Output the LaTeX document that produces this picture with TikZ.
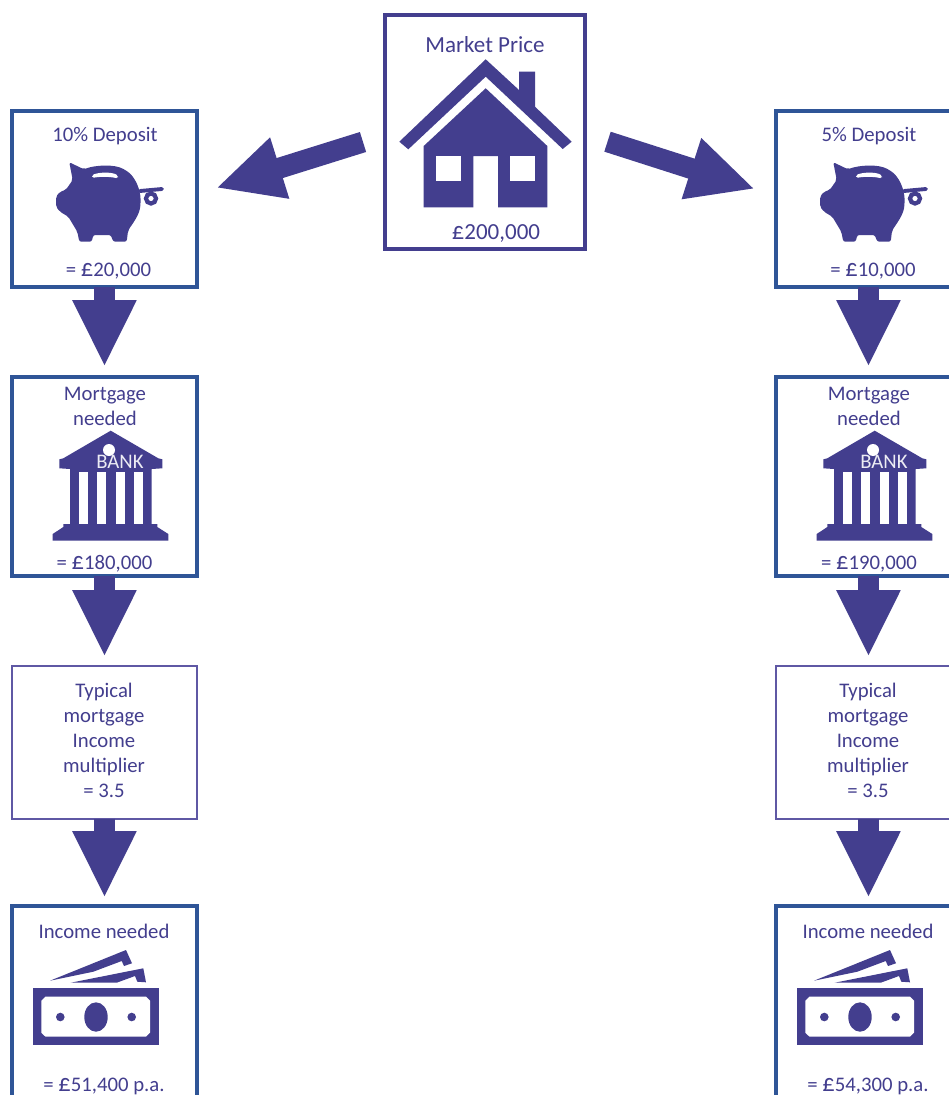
\documentclass[tikz,border=0pt]{standalone}
\usepackage{fontspec}
\setmainfont{Carlito}
\usetikzlibrary{arrows.meta}

\definecolor{ink}{HTML}{433E8E}
\definecolor{boxblue}{HTML}{2F5597}
\definecolor{boxthin}{HTML}{5F58A4}

\newcommand{\quid}{{\fontsize{14}{14}\selectfont £}}

\tikzset{
  box/.style={rectangle, draw=boxblue, fill=white, line width=1.8pt, outer sep=0pt, minimum width=3.7cm, anchor=north west},
  thinbox/.style={box, draw=boxthin, line width=1.1pt},
  pricebox/.style={box, draw=ink, line width=2pt, minimum width=4cm, minimum height=4.68cm},
  lbl/.style={text=ink, inner sep=0pt, align=center, font=\fontsize{11.8}{14.2}\selectfont},
  biglbl/.style={lbl, font=\fontsize{13.1}{15}\selectfont},
  blockarrow/.style={draw=ink, line width=11.9pt, -{Triangle[width=33.6pt, length=38pt]}},
  piggy/.pic={
    \fill[ink, rounded corners=1.2pt] (69.3,162.3) -- (84,169.3) .. controls (95,165) and (115,164) .. (125,170) .. controls (135,176) and (141,190) .. (140.5,203) .. controls (140,215) and (132,224) .. (128,231) -- (126.7,241.7) -- (113.3,241.7) -- (110.7,235) -- (93.3,235) -- (91.7,241.7) -- (79.3,241.7) -- (77.3,231.7) -- (68.3,216.7) -- (60,211.7) -- (56,206.7) -- (56,196.7) -- (60,191.7) -- (65.7,190) -- (72.7,180) -- cycle;
    \fill[white, rounded corners=1pt] (92,175) .. controls (100,172) and (112,172) .. (118,175.5) -- (118,178.5) .. controls (110,176.5) and (100,176.5) .. (92,178) -- cycle;
    \draw[ink, line width=2.2pt, line cap=round] (140,191) -- (162,189);
    \draw[ink, line width=2.4pt] (151,198.5) circle (5);
  },
  bankhouse/.pic={
    \fill[ink] (110.7,430.7) -- (158.3,458.3) -- (162.3,459.3) -- (162.3,468.3) -- (151.7,469) -- (151.7,524) -- (157.3,524) -- (157.3,527) -- (168.3,534) -- (168.3,540.7) -- (52.7,540.7) -- (52.7,534) -- (63.3,527) -- (63.3,524) -- (70,524) -- (70,469) -- (59.3,468.3) -- (59.3,459.3) -- (63.3,458.3) -- cycle;
    \fill[white] (79,471.7) rectangle (88,524);
    \fill[white] (97.3,471.7) rectangle (106,524);
    \fill[white] (115.7,471.7) rectangle (124.7,524);
    \fill[white] (134,471.7) rectangle (142.7,524);
    \fill[white] (109,450) circle (6);
    \node at (120,462.3) [lbl, text=white!90!ink] (banktext) {BANK};
  },
  banknotes/.pic={
    \fill[ink] (50,980.7) -- (126,950) -- (132,963.3) -- (124,966) -- (121.7,961) -- (93.3,971.7) -- cycle;
    \fill[ink] (70.7,982.7) -- (143.3,968.3) -- (146,982.3) -- (137.3,981.7) -- (135,976) -- (116.7,982.7) -- cycle;
    \fill[ink] (32.7,988.3) rectangle (158.7,1045.3);
    \fill[white] (45.5,996.7) -- (146,996.7) -- (150,1000.7) -- (150,1032.7) -- (146,1036.7) -- (45.5,1036.7) -- (41.3,1032.7) -- (41.3,1000.7) -- cycle;
    \fill[ink] (96,1017) ellipse (11.7 and 14.7);
    \fill[ink] (60.3,1017) circle (4.3);
    \fill[ink] (131.7,1017) circle (4.3);
  },
}

\begin{document}
\begin{tikzpicture}[x=0.02cm, y=-0.02cm]
\path[use as bounding box, clip] (0,0) rectangle (949,1095);

\node at (385,15) [pricebox] (market) {};
\node at (12,111) [box, minimum height=3.52cm] (dep10) {};
\node at (12,377) [box, minimum height=3.98cm] (mort10) {};
\node at (12,666) [thinbox, minimum height=3.06cm] (multi10) {};
\node at (12,906) [box, minimum height=4.2cm] (income10) {};
\node at (776,111) [box, minimum height=3.52cm] (dep5) {};
\node at (776,377) [box, minimum height=3.98cm] (mort5) {};
\node at (776,666) [thinbox, minimum height=3.06cm] (multi5) {};
\node at (776,906) [box, minimum height=4.2cm] (income5) {};

% house
\fill[ink] (485.7,59.3) -- (519,90) -- (519,71.7) -- (535,71.7) -- (535,106.7) -- (571.7,141.7) -- (562.7,149) -- (485.7,76.7) -- (408.3,149.3) -- (399.3,141.7) -- cycle;
\fill[ink] (485.7,88.3) -- (547.3,146) -- (547.3,207.3) -- (498,207.3) -- (498,156) -- (473.3,156) -- (473.3,207.3) -- (423.7,207.3) -- (423.7,146) -- cycle;
\fill[white] (435.7,156) rectangle (461,180.7);
\fill[white] (510,156) rectangle (535.3,180.7);

% icons
\pic at (0,0) {piggy};
\pic at (764,0) {piggy};
\pic at (0,0) {bankhouse};
\pic at (764,0) {bankhouse};
\pic at (0,0) {banknotes};
\pic at (764,0) {banknotes};

% labels
\node at (485,45) [biglbl] (markettop) {Market Price};
\node at (496,234) [biglbl] (marketprice) {\quid200,000};

\node at (105,136) [lbl] (dep10top) {10\% Deposit};
\node at (108.5,271) [lbl] (dep10val) {= \quid20,000};
\node at (105,406.5) [lbl] (mort10top) {Mortgage\\needed};
\node at (104.5,564) [lbl] (mort10val) {= \quid180,000};
\node at (104,740.5) [lbl] (multi10txt) {Typical\\mortgage\\Income\\multiplier\\= 3.5};
\node at (104,931) [lbl] (income10top) {Income needed};
\node at (104,1086) [lbl] (income10val) {= \quid51,400 p.a.};

\node at (869,136) [lbl] (dep5top) {5\% Deposit};
\node at (873,271) [lbl] (dep5val) {= \quid10,000};
\node at (869,406.5) [lbl] (mort5top) {Mortgage\\needed};
\node at (869,564) [lbl] (mort5val) {= \quid190,000};
\node at (868,740.5) [lbl] (multi5txt) {Typical\\mortgage\\Income\\multiplier\\= 3.5};
\node at (868,931) [lbl] (income5top) {Income needed};
\node at (868,1086) [lbl] (income5val) {= \quid54,300 p.a.};

% arrows
\coordinate (tailleft) at (363,142);
\coordinate (tipleft) at (216,188);
\coordinate (tailright) at (607.5,141.7);
\coordinate (tipright) at (755,189);
\draw[blockarrow] (tailleft) -- (tipleft);
\draw[blockarrow] (tailright) -- (tipright);

\draw[blockarrow, shorten >=0.2cm] (dep10.south) -- (mort10.north);
\draw[blockarrow, shorten >=0.18cm] (mort10.south) -- (multi10.north);
\draw[blockarrow, shorten >=0.16cm] (multi10.south) -- (income10.north);
\draw[blockarrow, shorten >=0.2cm] (dep5.south) -- (mort5.north);
\draw[blockarrow, shorten >=0.18cm] (mort5.south) -- (multi5.north);
\draw[blockarrow, shorten >=0.16cm] (multi5.south) -- (income5.north);

\end{tikzpicture}
\end{document}
